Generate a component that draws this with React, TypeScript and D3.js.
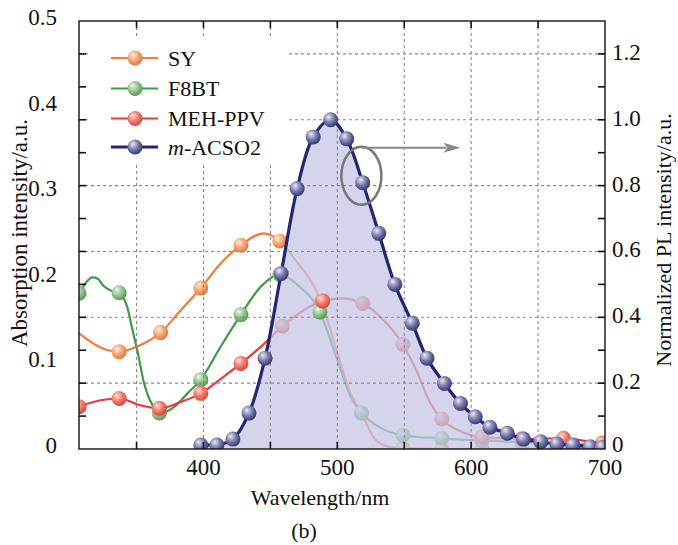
import React from 'react';
import * as d3 from 'd3';

const W = 678, H = 545;
const M = { left: 79, right: 605, top: 21, bottom: 449 };

const xDomain = [307, 700];
const leftDomain = [0, 0.5];
const rightDomain = [0, 1.3];
const xLabelTicks = [400, 500, 600, 700];
const xTickMarks = [350, 400, 450, 500, 550, 600, 650];
const leftLabelTicks = [0, 0.1, 0.2, 0.3, 0.4, 0.5];
const rightLabelTicks = [0, 0.2, 0.4, 0.6, 0.8, 1.0, 1.2];
const rightTickMarks = [0.1, 0.2, 0.3, 0.4, 0.5, 0.6, 0.7, 0.8, 0.9, 1.0, 1.1, 1.2];
const hGridValues = [0.2, 0.4, 0.6, 0.8, 1.0, 1.2];
const vGridValues = [350, 400, 450, 500, 550, 600, 650];

// Absorption (left axis)
const syLine: [number, number][] = [
  [307, 0.135], [318, 0.123], [328, 0.1157], [337, 0.1137], [350, 0.1195], [368, 0.136],
  [383, 0.162], [398, 0.188], [413, 0.217], [428, 0.238], [445, 0.252], [457, 0.243],
  [470, 0.218], [480, 0.197], [488, 0.172], [500, 0.112], [510, 0.065], [518, 0.042],
  [527, 0.014], [537, 0.003], [549, 0.001], [578, 0], [608, 0], [638, 0], [669, 0.001], [698, 0.001], [700, 0.001],
];
const syMarkers = [337, 368, 398, 428, 457, 488, 518, 549, 578, 608, 638, 669, 698];

const f8btLine: [number, number][] = [
  [307, 0.182], [312, 0.194], [317, 0.2005], [321, 0.199], [325, 0.191], [331, 0.185],
  [337, 0.1826], [343, 0.166], [347, 0.139], [351, 0.112], [355, 0.081], [360, 0.057],
  [364, 0.047], [367, 0.042], [378, 0.049], [388, 0.065], [398, 0.081], [413, 0.12],
  [428, 0.157], [443, 0.19], [457, 0.204], [470, 0.192], [487, 0.16], [500, 0.104],
  [510, 0.061], [518, 0.042], [532, 0.025], [549, 0.016], [578, 0.0125], [608, 0.01],
  [638, 0.008], [669, 0.006], [698, 0.005], [700, 0.005],
];
const f8btMarkers = [307, 337, 367, 398, 428, 457, 487, 518, 549, 578, 608, 638, 669, 698];

const mehLine: [number, number][] = [
  [307, 0.0494], [323, 0.057], [337, 0.059], [353, 0.051], [367, 0.0475], [383, 0.055],
  [398, 0.065], [413, 0.082], [428, 0.1], [444, 0.121], [459, 0.1437], [474, 0.161],
  [489, 0.173], [503, 0.176], [519, 0.17], [535, 0.15], [549, 0.122], [559, 0.092],
  [569, 0.055], [578, 0.035], [593, 0.02], [608, 0.014], [638, 0.012], [669, 0.0125],
  [698, 0.007], [700, 0.007],
];
const mehMarkers = [307, 337, 367, 398, 428, 459, 489, 519, 549, 578, 608, 638, 669, 698];

// markers that sit above the PL fill in the original
const highlightF8bt = [487];
const highlightMeh = [489];

// PL (right axis)
const plLine: [number, number][] = [
  [395, 0], [398, 0.012], [410, 0.012], [422, 0.03], [434, 0.109], [446, 0.276], [458, 0.533],
  [470, 0.791], [482, 0.948], [495, 1.0], [507, 0.942], [519, 0.809], [531, 0.655],
  [543, 0.5], [556, 0.382], [567, 0.276], [580, 0.199], [592, 0.138], [603, 0.098],
  [614, 0.066], [627, 0.048], [639, 0.03], [652, 0.022], [664, 0.015], [676, 0.012],
  [689, 0.007], [698, 0.005], [700, 0.005],
];
const plMarkers = [398, 410, 422, 434, 446, 458, 470, 482, 495, 507, 519, 531, 543, 556, 567, 580, 592, 603, 614, 627, 639, 652, 664, 676, 689, 698];

const ellipseCenter: [number, number] = [518, 0.83];
const arrowFrom: [number, number] = [518, 0.915];
const arrowTo: [number, number] = [592, 0.915];

const COLORS = {
  sy: '#ef7c3c',
  f8bt: '#3f9a48',
  meh: '#e83a3c',
  pl: '#24266f',
};

const GRADS: Record<string, [string, string, string]> = {
  sy: ['#fff0e2', '#f8a574', '#e2783e'],
  f8bt: ['#eef7ea', '#94c48f', '#559a56'],
  meh: ['#ffe2da', '#f47c6c', '#d8463c'],
  pl: ['#ececf6', '#7a7aac', '#383878'],
};

const FONT = "'Liberation Serif', 'DejaVu Serif', serif";
const TS: React.CSSProperties = { fontFamily: FONT };

function lookup(line: [number, number][], lam: number): number {
  const p = line.find((d) => d[0] === lam);
  return p ? p[1] : 0;
}

export default function App() {
  const x = d3.scaleLinear().domain(xDomain).range([M.left, M.right]);
  const yL = d3.scaleLinear().domain(leftDomain).range([M.bottom, M.top]);
  const yR = d3.scaleLinear().domain(rightDomain).range([M.bottom, M.top]);

  const lineL = d3.line<[number, number]>().x((d) => x(d[0])).y((d) => yL(d[1])).curve(d3.curveMonotoneX);
  const lineR = d3.line<[number, number]>().x((d) => x(d[0])).y((d) => yR(d[1])).curve(d3.curveCatmullRom.alpha(0.5));
  const areaR = d3.area<[number, number]>().x((d) => x(d[0])).y0(yR(0)).y1((d) => yR(d[1])).curve(d3.curveCatmullRom.alpha(0.5));

  const R = 7.5;
  const sphere = (key: string, cx: number, cy: number, k: string) => (
    <circle key={k} cx={cx} cy={cy} r={R} fill={`url(#grad-${key})`} />
  );

  const absSeries = [
    { key: 'sy', line: syLine, markers: syMarkers },
    { key: 'f8bt', line: f8btLine, markers: f8btMarkers },
    { key: 'meh', line: mehLine, markers: mehMarkers },
  ];

  const legendItems = [
    { key: 'sy', label: <tspan>SY</tspan> },
    { key: 'f8bt', label: <tspan>F8BT</tspan> },
    { key: 'meh', label: <tspan>MEH-PPV</tspan> },
    { key: 'pl', label: <><tspan fontStyle="italic">m</tspan><tspan>-ACSO2</tspan></> },
  ];
  const legendY = [58, 88.5, 118.5, 147];

  const ax = x(arrowFrom[0]), ay = yR(arrowFrom[1]);
  const bx = x(arrowTo[0]), by = yR(arrowTo[1]);

  return (
    <svg width={W} height={H} style={{ position: 'absolute', left: 0, top: 0, background: '#fff' }}>
      <defs>
        {Object.entries(GRADS).map(([k, [c0, c1, c2]]) => (
          <radialGradient key={k} id={`grad-${k}`} cx="40%" cy="38%" r="62%" fx="35%" fy="30%">
            <stop offset="0%" stopColor={c0} />
            <stop offset="55%" stopColor={c1} />
            <stop offset="100%" stopColor={c2} />
          </radialGradient>
        ))}
        <clipPath id="plotClip">
          <rect x={M.left} y={M.top} width={M.right - M.left} height={M.bottom - M.top} />
        </clipPath>
      </defs>

      <rect x={0} y={0} width={W} height={H} fill="#fff" />

      <g clipPath="url(#plotClip)">
        {absSeries.map((s) => (
          <g key={s.key}>
            <path d={lineL(s.line) || ''} fill="none" stroke={(COLORS as any)[s.key]} strokeWidth={2.2} />
            {s.markers.map((m, i) => sphere(s.key, x(m), yL(lookup(s.line, m)), `${s.key}-${i}`))}
          </g>
        ))}

        <path d={areaR(plLine) || ''} fill="#c6c6e6" fillOpacity={0.75} />

        {hGridValues.map((v) => (
          <line key={`hg${v}`} x1={M.left} x2={M.right} y1={yR(v)} y2={yR(v)} stroke="#8a8a8a" strokeWidth={1.1} strokeDasharray="3,3" />
        ))}
        {vGridValues.map((v) => (
          <line key={`vg${v}`} x1={x(v)} x2={x(v)} y1={M.top} y2={M.bottom} stroke="#8a8a8a" strokeWidth={1.1} strokeDasharray="3,3" />
        ))}

        {highlightF8bt.map((m, i) => sphere('f8bt', x(m), yL(lookup(f8btLine, m)), `hf-${i}`))}
        {highlightMeh.map((m, i) => sphere('meh', x(m), yL(lookup(mehLine, m)), `hm-${i}`))}

        <path d={lineR(plLine) || ''} fill="none" stroke={COLORS.pl} strokeWidth={3.2} />
        {plMarkers.map((m, i) => sphere('pl', x(m), yR(lookup(plLine, m)), `pl-${i}`))}
      </g>

      <rect x={88} y={37} width={200} height={126} fill="#fff" />
      {legendItems.map((it, i) => (
        <g key={it.key}>
          <line x1={111} x2={158} y1={legendY[i]} y2={legendY[i]} stroke={(COLORS as any)[it.key]} strokeWidth={it.key === 'pl' ? 3 : 2.2} />
          <circle cx={135} cy={legendY[i]} r={R} fill={`url(#grad-${it.key})`} />
          <text x={168} y={legendY[i]} dy="0.35em" fontSize={22} fill="#111" style={TS}>{it.label}</text>
        </g>
      ))}

      <ellipse cx={x(ellipseCenter[0])} cy={yR(ellipseCenter[1])} rx={20} ry={29} fill="none" stroke="#777" strokeWidth={2.5} />
      <line x1={ax} y1={ay} x2={bx - 14} y2={by} stroke="#888" strokeWidth={2} />
      <path d={`M${bx},${by} L${bx - 17},${by - 5} L${bx - 13},${by} L${bx - 17},${by + 5} Z`} fill="#888" />

      <rect x={M.left} y={M.top} width={M.right - M.left} height={M.bottom - M.top} fill="none" stroke="#111" strokeWidth={1.4} />

      {xTickMarks.map((v) => (
        <g key={`xt${v}`}>
          <line x1={x(v)} x2={x(v)} y1={M.bottom} y2={M.bottom - 7} stroke="#111" strokeWidth={1.6} />
          <line x1={x(v)} x2={x(v)} y1={M.top} y2={M.top + 7} stroke="#111" strokeWidth={1.6} />
        </g>
      ))}
      {rightTickMarks.map((v) => (
        <g key={`rt${v}`}>
          <line x1={M.right} x2={M.right - 7} y1={yR(v)} y2={yR(v)} stroke="#111" strokeWidth={1.6} />
          <line x1={M.left} x2={M.left + 7} y1={yR(v)} y2={yR(v)} stroke="#111" strokeWidth={1.6} />
        </g>
      ))}

      {xLabelTicks.map((v) => (
        <text key={`xl${v}`} x={x(v)} y={M.bottom + 18} dy="0.35em" textAnchor="middle" fontSize={23} fill="#111" style={TS}>{v}</text>
      ))}
      {leftLabelTicks.map((v) => (
        <text key={`ll${v}`} x={57} y={yL(v) - 3} dy="0.3em" textAnchor="end" fontSize={23} fill="#111" style={TS}>{v === 0 ? '0' : v.toFixed(1)}</text>
      ))}
      {rightLabelTicks.map((v) => (
        <text key={`rl${v}`} x={612} y={yR(v) - (v === 0 ? 4 : 1)} dy="0.3em" textAnchor="start" fontSize={23} fill="#111" style={TS}>{v === 0 ? '0' : v.toFixed(1)}</text>
      ))}

      <text x={320} y={497} dy="0.35em" textAnchor="middle" fontSize={22} fill="#111" style={TS}>Wavelength/nm</text>
      <text transform={`translate(20,233) rotate(-90)`} textAnchor="middle" dy="0.32em" fontSize={23} fill="#111" style={TS}>Absorption intensity/a.u.</text>
      <text transform={`translate(664,240) rotate(-90)`} textAnchor="middle" dy="0.3em" fontSize={22} fill="#111" style={TS}>Normalized PL intensity/a.u.</text>
      <text x={304} y={530} dy="0.35em" textAnchor="middle" fontSize={22} fill="#111" style={TS}>(b)</text>
    </svg>
  );
}
